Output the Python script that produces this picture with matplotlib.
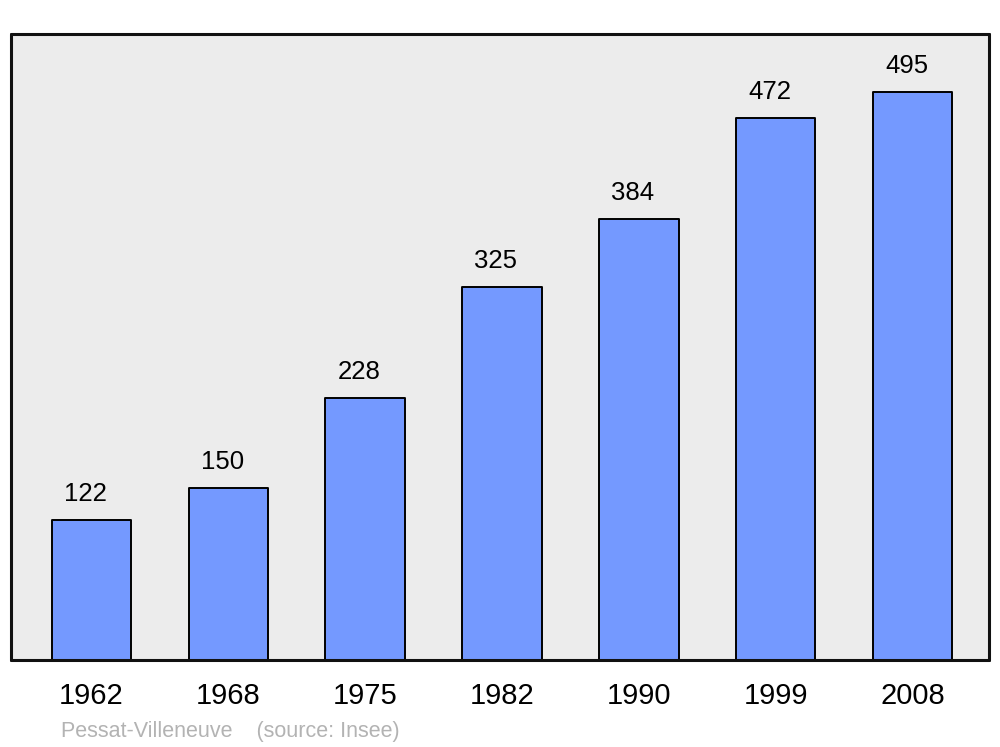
import matplotlib
matplotlib.use("Agg")
import matplotlib.pyplot as plt

years = ["1962", "1968", "1975", "1982", "1990", "1999", "2008"]
population = [122, 150, 228, 325, 384, 472, 495]

plt.rcParams['font.family'] = ['Liberation Sans', 'DejaVu Sans']

fig = plt.figure(figsize=(10, 7.47), dpi=100)
ax = fig.add_axes([11/1000, 1 - 660/747, 978/1000, 626/747])
ax.set_facecolor('#ececec')

x = list(range(len(years)))
ax.bar(x, population, width=0.58, color='#7499ff', edgecolor='black',
       linewidth=1.4, joinstyle='round', zorder=2)

for xi, v in zip(x, population):
    ax.annotate(str(v), (xi, v), xytext=(-6, 26), textcoords='offset pixels',
                ha='center', va='center', fontsize=18.5, color='black')

ax.set_xlim(-0.588, 6.559)
ax.set_ylim(0, 545.5)
ax.set_xticks(x)
ax.set_xticklabels(years, fontsize=21)
ax.set_yticks([])
ax.tick_params(axis='x', length=0, pad=16)
for s in ax.spines.values():
    s.set_linewidth(2.2)
    s.set_color('#111111')
    s.set_capstyle('round')
    s.set_joinstyle('round')

fig.text(61/1000, 1 - 731/747, "Pessat-Villeneuve    (source: Insee)",
         fontsize=15.5, color='#b3b3b3', ha='left', va='center')

fig.savefig("out.png", dpi=100)
